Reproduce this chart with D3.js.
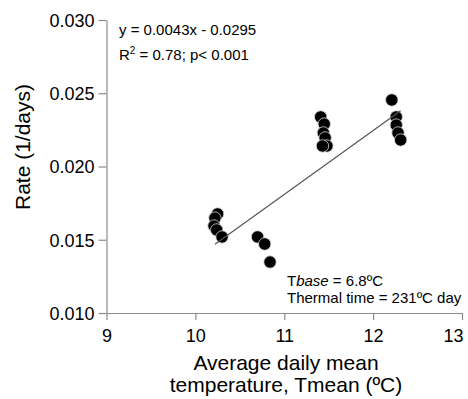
<!DOCTYPE html>
<html>
<head>
<meta charset="utf-8">
<script src="https://cdn.jsdelivr.net/npm/d3@7"></script>
<style>
  body { margin: 0; background: #fff; }
  text { font-family: Arial, "Liberation Sans", sans-serif; fill: #000; }
  .axis path, .axis line { stroke: #8a8a8a; stroke-width: 1.2; }
  .axis text { font-size: 18px; }
  .title { font-size: 21px; }
  .note { font-size: 15px; }
</style>
</head>
<body>
<svg id="chart"></svg>
<script>
// Observed development rate vs average daily mean temperature
const tempValues = [10.25, 10.22, 10.21, 10.24, 10.30,
                    10.70, 10.78, 10.84,
                    11.41, 11.45, 11.44, 11.46, 11.48, 11.43,
                    12.21, 12.26, 12.26, 12.28, 12.31];
const rateValues = [0.01676, 0.01648, 0.01594, 0.01567, 0.01519,
                    0.01519, 0.01471, 0.01348,
                    0.02338, 0.02290, 0.02229, 0.02195, 0.02140, 0.02140,
                    0.02454, 0.02338, 0.02283, 0.02229, 0.02181];

// fitted regression line ends
const fitX = [10.22, 12.31];
const fitY = [0.0147, 0.0238];

const xTicks = [9, 10, 11, 12, 13];
const yTicks = [0.010, 0.015, 0.020, 0.025, 0.030];

const config = {
    width: 468,
    height: 399,
    margin: { top: 20, right: 6, bottom: 86, left: 106.5 }
};

const width = config.width - config.margin.left - config.margin.right;
const height = config.height - config.margin.top - config.margin.bottom;

const svg = d3.select('#chart')
    .attr('width', config.width)
    .attr('height', config.height);

const chart = svg.append('g')
    .attr('transform', `translate(${config.margin.left},${config.margin.top})`);

const xScale = d3.scaleLinear().domain([9, 13]).range([0, width]);
const yScale = d3.scaleLinear().domain([0.010, 0.030]).range([height, 0]);

const xAxis = d3.axisBottom(xScale)
    .tickValues(xTicks)
    .tickFormat(d3.format('d'))
    .tickSizeInner(7)
    .tickSizeOuter(0)
    .tickPadding(9);

const yAxis = d3.axisLeft(yScale)
    .tickValues(yTicks)
    .tickFormat(d3.format('.3f'))
    .tickSizeInner(8)
    .tickSizeOuter(0)
    .tickPadding(4);

chart.append('g')
    .attr('class', 'axis x-axis')
    .attr('transform', `translate(0,${height})`)
    .call(xAxis)
    .call(g => g.selectAll('text').attr('fill', '#000'))
    // last label sits against the right edge
    .call(g => g.selectAll('.tick:last-of-type text').attr('text-anchor', 'end').attr('x', 1));

chart.append('g')
    .attr('class', 'axis y-axis')
    .call(yAxis)
    .call(g => g.selectAll('text').attr('fill', '#000').attr('dy', '0.36em'));

// points
const points = tempValues.map((t, i) => ({ t: t, r: rateValues[i] }));
chart.selectAll('.point')
    .data(points)
    .join('circle')
    .attr('class', 'point')
    .attr('cx', d => xScale(d.t))
    .attr('cy', d => yScale(d.r))
    .attr('r', 6.2)
    .attr('fill', '#000')
    .attr('stroke', '#d8d8d8')
    .attr('stroke-width', 0.8);

// regression line
chart.append('line')
    .attr('x1', xScale(fitX[0]))
    .attr('y1', yScale(fitY[0]))
    .attr('x2', xScale(fitX[1]))
    .attr('y2', yScale(fitY[1]))
    .attr('stroke', '#555')
    .attr('stroke-width', 1.2);

// axis titles
svg.append('text')
    .attr('class', 'title')
    .attr('x', 286)
    .attr('y', 370)
    .attr('text-anchor', 'middle')
    .text('Average daily mean');

svg.append('text')
    .attr('class', 'title')
    .attr('x', 286)
    .attr('y', 392)
    .attr('text-anchor', 'middle')
    .text('temperature, Tmean (ºC)');

svg.append('text')
    .attr('class', 'title')
    .attr('transform', 'translate(30,147) rotate(-90)')
    .attr('text-anchor', 'middle')
    .text('Rate (1/days)');

// annotations
svg.append('text')
    .attr('class', 'note')
    .attr('x', 119)
    .attr('y', 35)
    .text('y = 0.0043x - 0.0295');

const r2 = svg.append('text')
    .attr('class', 'note')
    .attr('x', 119)
    .attr('y', 60);
r2.append('tspan').text('R');
r2.append('tspan').attr('font-size', '10px').attr('dy', '-6').text('2');
r2.append('tspan').attr('dy', '6').text(' = 0.78; p< 0.001');

const tb = svg.append('text')
    .attr('class', 'note')
    .attr('x', 287)
    .attr('y', 286);
tb.append('tspan').text('T');
tb.append('tspan').attr('font-style', 'italic').text('base');
tb.append('tspan').text(' = 6.8ºC');

svg.append('text')
    .attr('class', 'note')
    .attr('x', 287)
    .attr('y', 303)
    .text('Thermal time = 231ºC day');
</script>
</body>
</html>
